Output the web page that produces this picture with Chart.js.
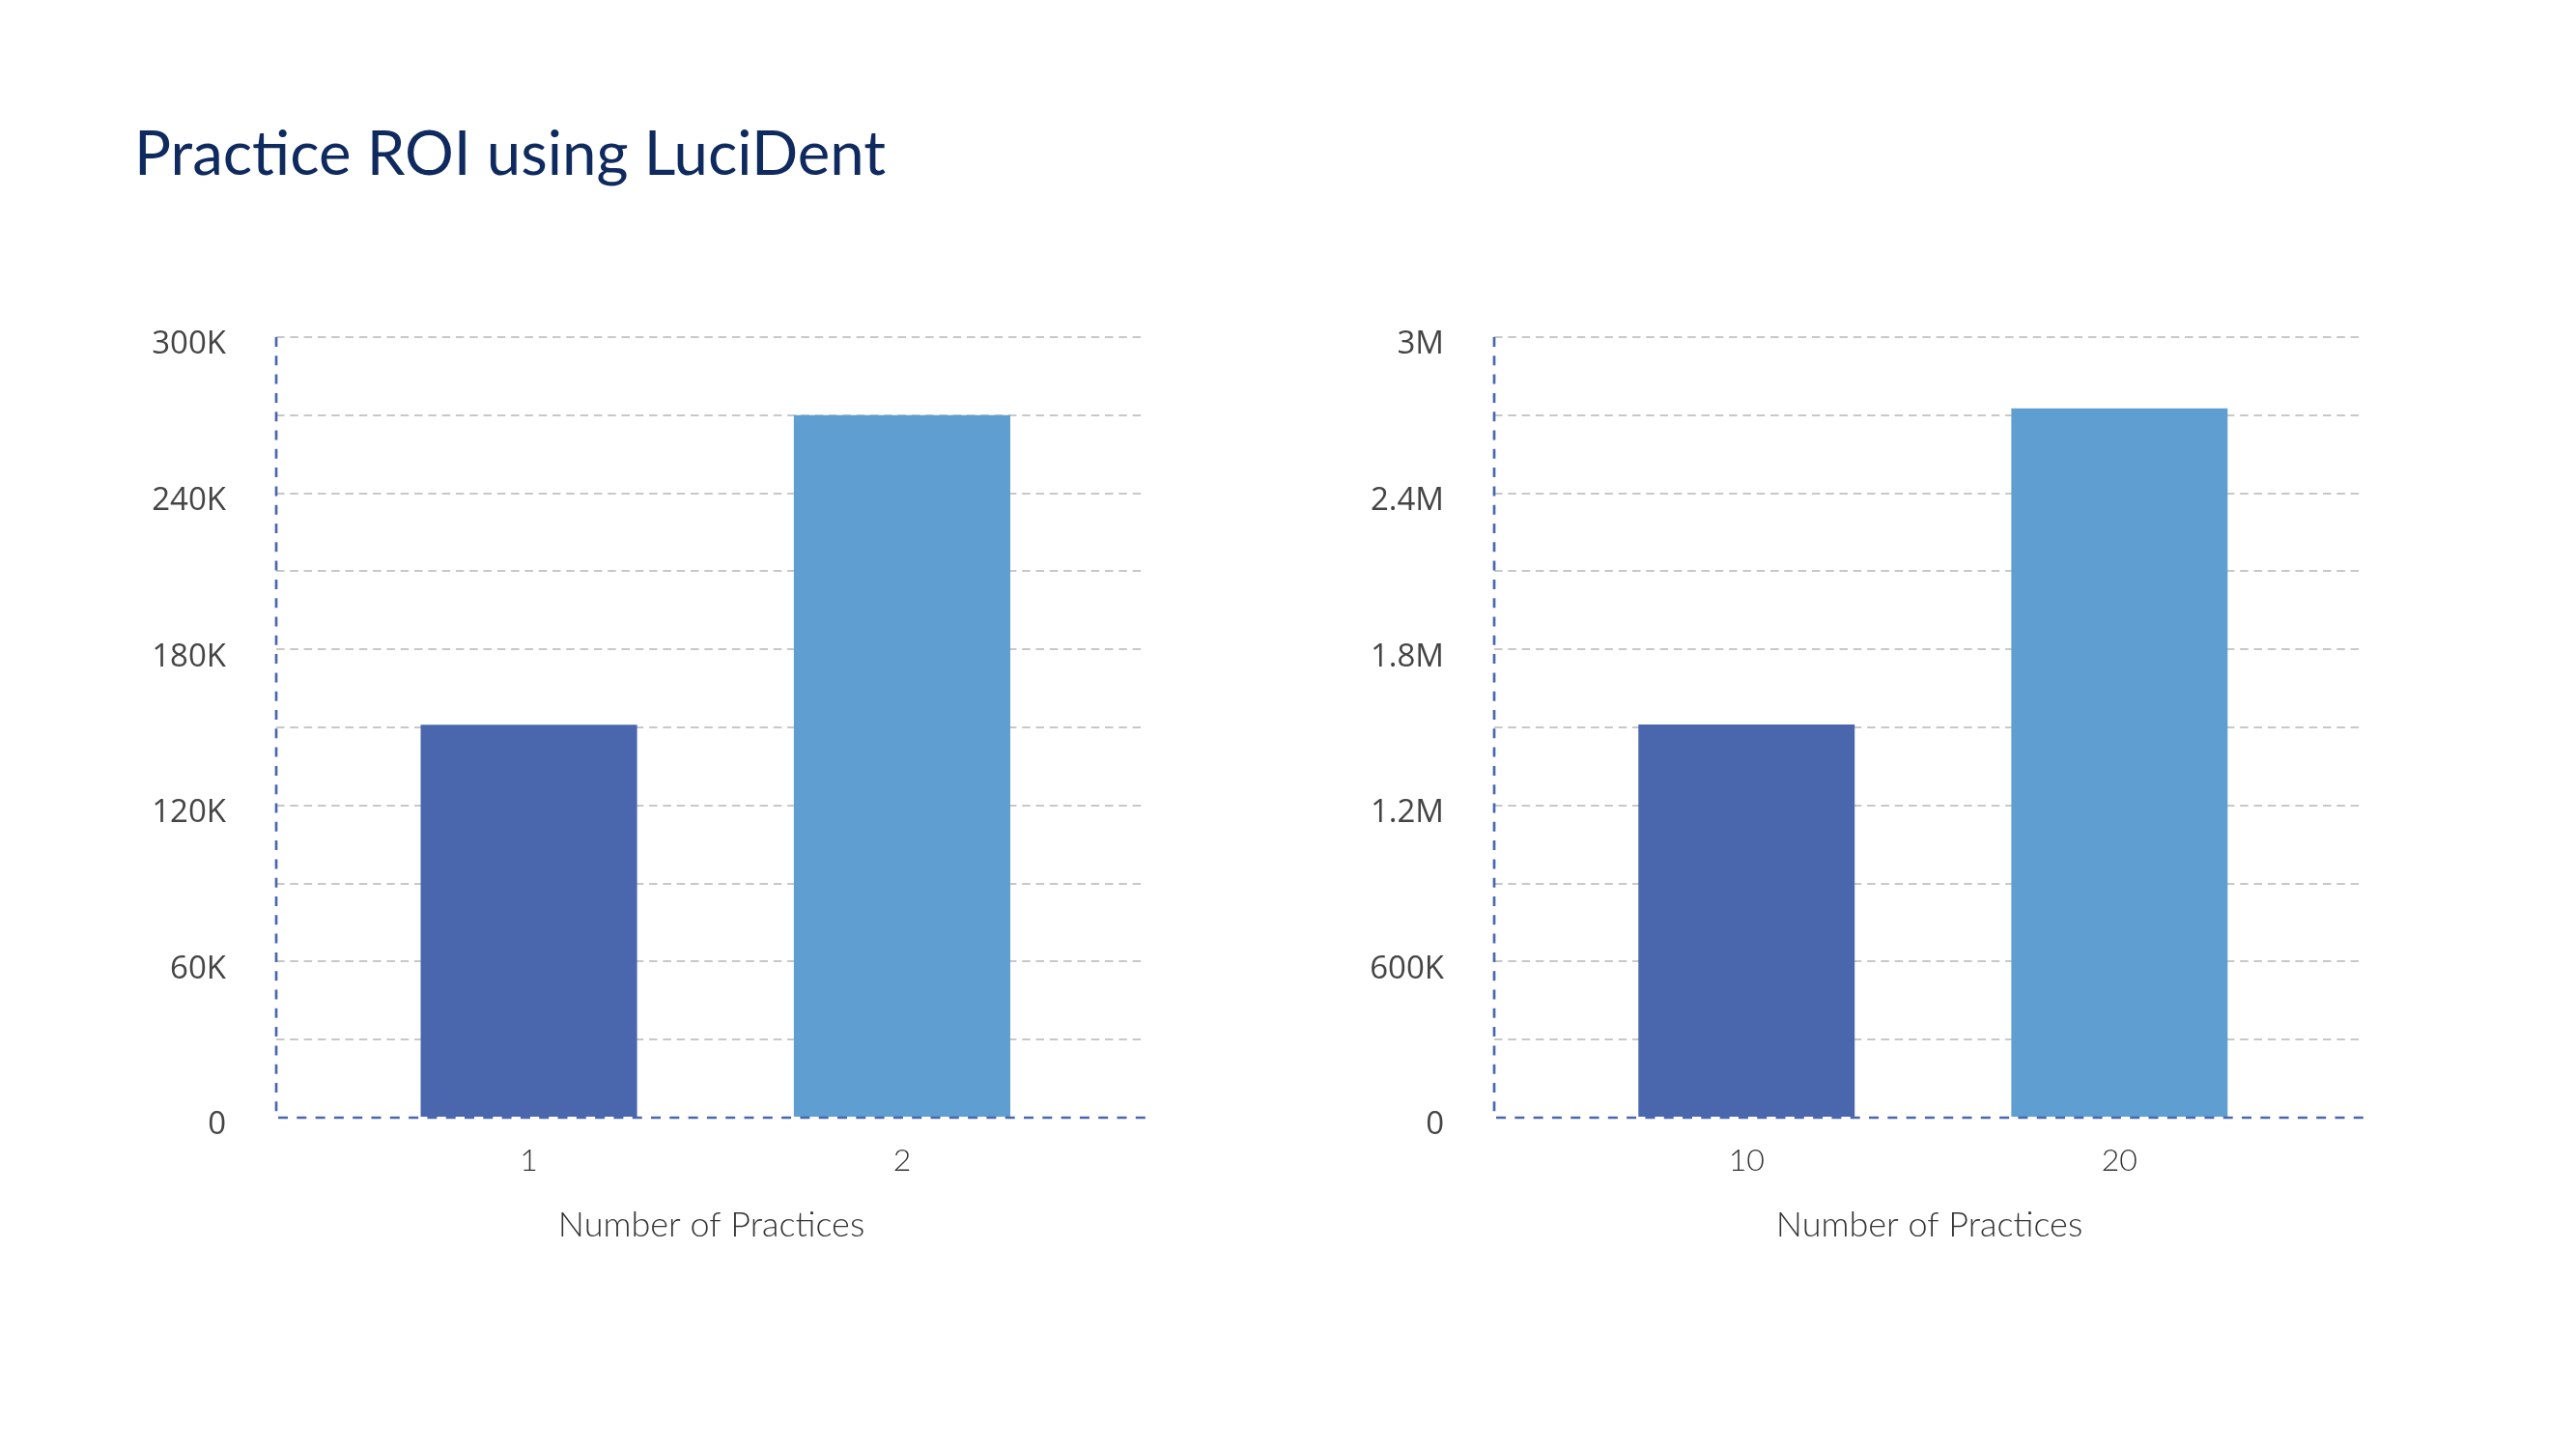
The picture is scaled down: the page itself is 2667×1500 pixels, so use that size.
<!DOCTYPE html>
<html><head><meta charset="utf-8">
<script src="https://cdn.jsdelivr.net/npm/chart.js@4/dist/chart.umd.min.js"></script>
<style>
html,body{margin:0;padding:0;background:#fff;}
body{width:2667px;height:1500px;position:relative;overflow:hidden;}
#title{position:absolute;left:139px;top:125px;font-family:Lato,sans-serif;font-size:63.5px;line-height:64px;color:#0F2A5E;white-space:nowrap;}
.box{position:absolute;top:0;height:1500px;}
</style></head><body>
<div id="title">Practice ROI using LuciDent</div>
<div class="box" style="left:0;width:1333px"><canvas id="c1"></canvas></div>
<div class="box" style="left:1333px;width:1334px"><canvas id="c2"></canvas></div>
<script>
// ---- data ----
const categoriesLeft = [1, 2];
const valuesLeft = [151000, 270000];
const categoriesRight = [10, 20];
const valuesRight = [1511000, 2726000];
const yTickLabelsLeft = ['0', '60K', '120K', '180K', '240K', '300K'];
const yTickLabelsRight = ['0', '600K', '1.2M', '1.8M', '2.4M', '3M'];
const barColors = ['#4A67AE', '#5F9ED1'];
const xAxisTitle = 'Number of Practices';

const axisLines = {
  id: 'axisLines',
  afterDatasetsDraw(chart) {
    const {ctx, chartArea: {left, right, top, bottom}} = chart;
    ctx.save();
    ctx.strokeStyle = '#4A67AE';
    ctx.lineWidth = 2.7;
    ctx.setLineDash([10, 9.3]);
    ctx.beginPath(); ctx.moveTo(left, top); ctx.lineTo(left, bottom); ctx.stroke();
    ctx.beginPath(); ctx.moveTo(left + 2, bottom); ctx.lineTo(right + 3, bottom); ctx.stroke();
    ctx.restore();
  }
};

function makeChart(id, cats, vals, yLabels, yMax, yStep, xMin, xMax, pad) {
  return new Chart(document.getElementById(id), {
    type: 'bar',
    data: {
      datasets: [{
        data: cats.map((c, i) => ({x: c, y: vals[i]})),
        backgroundColor: barColors,
        borderWidth: 0,
        categoryPercentage: 1,
        barPercentage: 0.58
      }]
    },
    options: {
      responsive: true,
      maintainAspectRatio: false,
      animation: false,
      devicePixelRatio: 1,
      layout: {padding: pad},
      plugins: {legend: {display: false}, tooltip: {enabled: false}, title: {display: false}},
      scales: {
        x: {
          type: 'linear',
          offset: false,
          min: xMin, max: xMax,
          afterBuildTicks: s => { s.ticks = cats.map(v => ({value: v})); },
          ticks: {
            padding: 25, autoSkip: false, maxRotation: 0,
            font: {family: 'Lato', size: 32, weight: 300}, color: '#333',
            callback: v => String(v)
          },
          grid: {display: false, drawTicks: false, offset: false},
          border: {display: false},
          title: {display: true, text: xAxisTitle, padding: 0,
                  font: {family: 'Lato', size: 36, weight: 300}, color: '#333'},
          afterFit: s => { s.height = 133; }
        },
        y: {
          min: 0, max: yMax,
          ticks: {
            stepSize: yStep, autoSkip: false, padding: 52, labelOffset: 8,
            font: {family: 'Open Sans', size: 33}, color: '#444',
            callback: v => (Math.round(v / yStep) % 2 === 0) ? yLabels[Math.round(v / (2 * yStep))] : ''
          },
          grid: {
            color: c => (c.tick && c.tick.value === 0) ? 'rgba(0,0,0,0)' : '#C8C8C8',
            lineWidth: 2, drawTicks: false
          },
          border: {display: false, dash: [8.5, 5.8]},
          afterFit: s => { s.width = 150; }
        }
      }
    },
    plugins: [axisLines]
  });
}

makeChart('c1', categoriesLeft, valuesLeft, yTickLabelsLeft, 300000, 30000, 0.323, 2.655,
  {left: 136, right: 146, top: 349, bottom: 210});
makeChart('c2', categoriesRight, valuesRight, yTickLabelsRight, 3000000, 300000, 3.234, 26.57,
  {left: 64, right: 219, top: 349, bottom: 210});
</script>
</body></html>
